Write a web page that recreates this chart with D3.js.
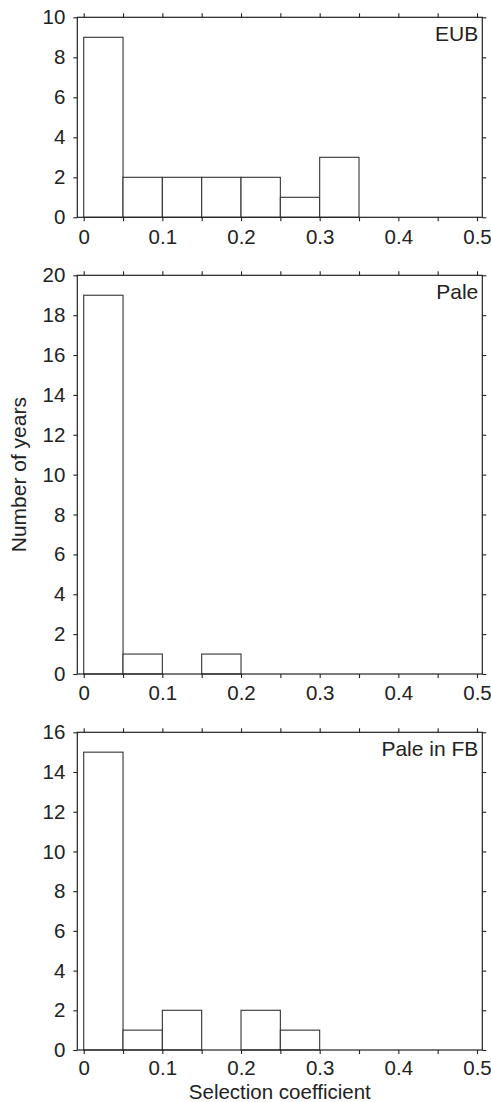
<!DOCTYPE html>
<html>
<head>
<meta charset="utf-8">
<script src="https://cdn.jsdelivr.net/npm/d3@7"></script>
<style>
  body { margin: 0; background: #fff; }
  svg { display: block; }
  text { font-family: "Liberation Sans", Arial, sans-serif; fill: #222; }
</style>
</head>
<body>
<div id="chart"></div>
<script>
// bins of the selection coefficient (left edges), width 0.05
const binStarts = [0, 0.05, 0.1, 0.15, 0.2, 0.25, 0.3, 0.35, 0.4, 0.45];
const binWidth = 0.05;

// counts per bin for each panel
const eubCounts = [9, 2, 2, 2, 2, 1, 3, 0, 0, 0];
const paleCounts = [19, 1, 0, 1, 0, 0, 0, 0, 0, 0];
const paleFbCounts = [15, 1, 2, 0, 2, 1, 0, 0, 0, 0];

const panelNames = ['EUB', 'Pale', 'Pale in FB'];
const yMaxes = [10, 20, 16];
const xTickLabels = [0, 0.1, 0.2, 0.3, 0.4, 0.5];
const xMinorTicks = [0, 0.05, 0.1, 0.15, 0.2, 0.25, 0.3, 0.35, 0.4, 0.45, 0.5];

const width = 491, height = 1102;
const frameLeft = 77.3, frameRight = 482.3;
// vertical extents of each panel frame
const panelBox = [
  {top: 17.3, bottom: 217.3, pad: 8},
  {top: 275.3, bottom: 674, pad: 7},
  {top: 732.3, bottom: 1050, pad: 6}
];

const svg = d3.select('#chart').append('svg')
  .attr('width', width)
  .attr('height', height);

const x = d3.scaleLinear().domain([0, 0.5]).range([83.7, 477]);

const allCounts = [eubCounts, paleCounts, paleFbCounts];
const tickLen = 4;

allCounts.forEach((counts, i) => {
  const box = panelBox[i];
  const y = d3.scaleLinear().domain([0, yMaxes[i]]).range([box.bottom, box.top]);
  const yTicks = d3.range(0, yMaxes[i] + 1, 2);
  const g = svg.append('g');

  // bars
  g.selectAll('rect.bar')
    .data(binStarts.map((b, k) => ({x0: b, x1: b + binWidth, n: counts[k]})))
    .enter().append('rect')
    .attr('class', 'bar')
    .attr('x', d => x(d.x0))
    .attr('width', d => x(d.x1) - x(d.x0))
    .attr('y', d => y(d.n))
    .attr('height', d => y(0) - y(d.n))
    .attr('fill', '#fff')
    .attr('stroke', '#333')
    .attr('stroke-width', 1.1);

  // bottom axis
  const bottom = g.append('g')
    .attr('transform', `translate(0,${box.bottom})`)
    .call(d3.axisBottom(x).tickValues(xMinorTicks).tickSize(tickLen).tickSizeOuter(0)
      .tickPadding(box.pad)
      .tickFormat(d => xTickLabels.some(t => Math.abs(t - d) < 1e-9) ? d3.format('~g')(d) : ''));
  // top axis (ticks only)
  const top = g.append('g')
    .attr('transform', `translate(0,${box.top})`)
    .call(d3.axisTop(x).tickValues(xMinorTicks).tickSize(tickLen).tickSizeOuter(0).tickFormat(''));
  // left axis
  const left = g.append('g')
    .attr('transform', `translate(${frameLeft},0)`)
    .call(d3.axisLeft(y).tickValues(yTicks).tickSize(tickLen).tickSizeOuter(0).tickPadding(8));
  // right axis (ticks only)
  const right = g.append('g')
    .attr('transform', `translate(${frameRight},0)`)
    .call(d3.axisRight(y).tickValues(yTicks).tickSize(tickLen).tickSizeOuter(0).tickFormat(''));

  [bottom, top, left, right].forEach(a => {
    a.select('.domain').remove();
    a.selectAll('line').attr('stroke', '#222').attr('stroke-width', 1.1);
    a.selectAll('text').style('font-size', '20.5px').style('font-family', '"Liberation Sans", Arial, sans-serif').attr('fill', '#222');
  });

  // frame
  g.append('rect')
    .attr('x', frameLeft)
    .attr('y', box.top)
    .attr('width', frameRight - frameLeft)
    .attr('height', box.bottom - box.top)
    .attr('fill', 'none')
    .attr('stroke', '#222')
    .attr('stroke-width', 1.2);

  // panel name
  g.append('text')
    .attr('x', frameRight - 4)
    .attr('y', box.top + 24)
    .attr('text-anchor', 'end')
    .style('font-size', '21px')
    .text(panelNames[i]);
});

// axis titles
svg.append('text')
  .attr('x', (frameLeft + frameRight) / 2)
  .attr('y', 1099)
  .attr('text-anchor', 'middle')
  .style('font-size', '20.5px')
  .text('Selection coefficient');

svg.append('text')
  .attr('transform', `translate(26,${(panelBox[1].top + panelBox[1].bottom) / 2}) rotate(-90)`)
  .attr('text-anchor', 'middle')
  .style('font-size', '21px')
  .text('Number of years');
</script>
</body>
</html>
